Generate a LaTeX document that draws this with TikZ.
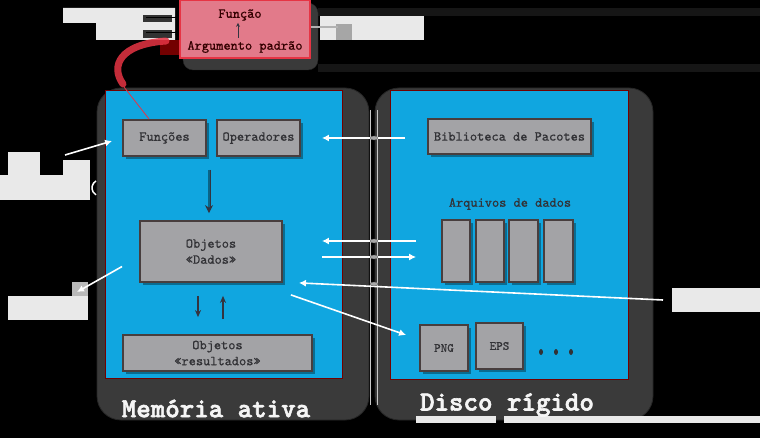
\documentclass[tikz,border=0pt]{standalone}
\usepackage{fontspec}
\newfontfamily\boxfont{lmmono10-regular.otf}[FakeBold=0.8]
\newfontfamily\titlefont{lmmonolt10-bold.otf}[FakeBold=2.2]
\usetikzlibrary{arrows.meta,calc,shadows}

\definecolor{panelblue}{RGB}{16,166,224}
\definecolor{paneldark}{RGB}{58,58,58}
\definecolor{boxfill}{RGB}{163,163,166}
\definecolor{boxline}{RGB}{72,62,62}
\definecolor{txtgray}{RGB}{50,50,54}
\definecolor{pinkfill}{RGB}{226,122,138}
\definecolor{redline}{RGB}{230,52,68}
\definecolor{labelgray}{RGB}{233,233,233}
\definecolor{bandgray}{RGB}{22,22,22}
\definecolor{arrowdark}{RGB}{52,52,64}

\tikzset{
  box/.style={draw=boxline, line width=1.8pt, fill=boxfill,
    font=\boxfont\fontsize{13.7}{16}\selectfont, text=txtgray, align=center,
    inner sep=0pt,
    drop shadow={shadow xshift=3pt, shadow yshift=-3pt, opacity=0.35, fill=black}},
  plain/.style={font=\boxfont\fontsize{13.7}{16}\selectfont, text=txtgray, inner sep=0pt},
  panel/.style={fill=paneldark, draw=black!85, line width=0.8pt, rounded corners=24pt},
  blue/.style={fill=panelblue, draw=black!55!red, line width=0.4pt},
  warrow/.style={draw=white, line width=1.6pt, -{Latex[length=7pt,width=7pt]}},
  darrow/.style={draw=arrowdark, line width=1.6pt, -{Stealth[length=7pt,width=6pt]}},
  notebox/.style={fill=labelgray},
  title/.style={font=\titlefont\fontsize{27.6}{30}\selectfont, inner sep=0pt, text=white!96!black},
  ring/.style={fill=gray!70, draw=black!60, line width=0.3pt},
}

\begin{document}
\begin{tikzpicture}[x=1pt,y=-1pt]
  % canvas
  \fill[black] (0,0) rectangle (760,438);
  \useasboundingbox (0,0) rectangle (760,438);
  \fill[bandgray] (318,8) rectangle (760,16);
  \fill[bandgray] (318,64) rectangle (760,72);

  % two binder panels
  \path[panel] (97,88) rectangle (369,420);
  \path[panel] (375,88) rectangle (653,420);
  \path[blue] (105,90) rectangle (342,378);
  \path[blue] (390,90) rectangle (628,379);
  \draw[gray!45, line width=0.6pt] (370.5,110) -- (370.5,405);
  \draw[gray!45, line width=0.6pt] (377.5,110) -- (377.5,405);

  % function card
  \path[fill=paneldark, draw=black!85, rounded corners=10pt] (183,3) rectangle (318,70);
  \node[draw=redline, line width=2pt, fill=pinkfill, minimum width=130pt,
        minimum height=58pt, inner sep=0pt] (funcao) at (245,29) {};
  \node[plain, text=black!80!red] (fnA) at (240,15) {Função};
  \node[plain, text=black!80!red] (fnB) at (245,47) {Argumento padrão};
  \draw[arrowdark, line width=0.9pt, -{Stealth[length=4pt,width=4pt]}]
    ($(fnB.north)+(-7,-3)$) -- ($(fnA.south)+(-2,2)$);

  % memory side
  \node[box, minimum width=83pt, minimum height=36pt] (fun) at (164.5,138) {Funções};
  \node[box, minimum width=83pt, minimum height=36pt] (op) at (258.5,138) {Operadores};
  \node[box, minimum width=142pt, minimum height=61pt] (dados) at (211,251.5)
    {Objetos\\«Dados»};
  \node[box, minimum width=189pt, minimum height=36pt] (res) at (217.5,353)
    {Objetos\\«resultados»};

  % disk side
  \node[box, minimum width=163pt, minimum height=35pt] (bib) at (509.5,136.5)
    {Biblioteca de Pacotes};
  \node[plain] (arq) at (510,204) {Arquivos de dados};
  \node[box, minimum width=28pt, minimum height=62pt] (f1) at (456,251) {};
  \node[box, minimum width=28pt, minimum height=62pt] (f2) at (490,251) {};
  \node[box, minimum width=29pt, minimum height=62pt] (f3) at (523.5,251) {};
  \node[box, minimum width=29pt, minimum height=62pt] (f4) at (558.5,251) {};
  \node[box, minimum width=48pt, minimum height=46pt,
        font=\boxfont\fontsize{12.5}{14}\selectfont] (png) at (444,348) {PNG};
  \node[box, minimum width=47pt, minimum height=46pt,
        font=\boxfont\fontsize{12.5}{14}\selectfont] (eps) at (499.5,346) {EPS};
  \foreach \dx in {541,556,571} \fill[txtgray] (\dx,352) ellipse (2pt and 3pt);

  % panel titles
  \node[title] (tmem) at (216,408.5) {Memória ativa};
  \fill[labelgray] (416,416) rectangle (496,423);
  \fill[labelgray] (504,416) rectangle (760,423);
  \node[title] (tdisk) at (507,405) {Disco rígido};

  % outside note blocks
  \fill[notebox] (63,8) -- (175,8) -- (175,40) -- (96,40) -- (96,23) -- (63,23) -- cycle;
  \fill[black!80] (143,15) rectangle (172,22);
  \fill[black!80] (143,30) rectangle (172,38);
  \fill[notebox] (320,16) rectangle (424,40);
  \fill[gray!70] (336,24) rectangle (352,40);
  \fill[notebox] (8,152) rectangle (40,176);
  \fill[notebox] (63,160) rectangle (90,176);
  \fill[notebox] (0,175) rectangle (90,200);
  \fill[notebox] (8,296) rectangle (88,320);
  \fill[gray!55] (72,282) rectangle (88,296);
  \fill[notebox] (672,288) rectangle (760,312);

  \coordinate (nA) at (146,18);
  \coordinate (nB) at (146,33);
  \coordinate (nOut) at (338,27);
  \coordinate (nL) at (65,155);
  \coordinate (nD) at (77,292);
  \coordinate (nR) at (663,300);

  % note pointers
  \draw[black, line width=1pt, -{Stealth[length=4pt]}] (nA) -- (nA -| funcao.west);
  \draw[black, line width=1pt, -{Stealth[length=4pt]}] (nB) -- (nB -| funcao.west);
  \draw[white, double=gray!60, double distance=1.2pt, line width=0.8pt] (funcao.east |- nOut) -- (nOut);
  \draw[warrow] (nL) -- ($(fun.west)+(-10,3)$);
  \draw[white, line width=1.5pt] (96,181) arc[start angle=120, end angle=240, radius=8pt];
  \draw[warrow] ($(dados.west)+(-17,15)$) -- (nD);

  % default argument link
  \fill[black!55!red] (160,40) rectangle (179,55);
  \draw[redline, line width=0.8pt] ($(fun.north west)+(27,0)$) -- (124,87);
  \draw[redline, line width=7pt, line cap=round, opacity=0.85]
    (123,84) .. controls (110,66) and (120,44) .. (166,41);

  % flows inside memory
  \draw[arrowdark, double=panelblue!60!black, double distance=1.2pt, line width=0.9pt,
        -{Stealth[length=8pt,width=8pt]}] (209,170) -- ($(dados.north)+(-2,-7)$);
  \draw[darrow] ($(dados.south)+(-13,13)$) -- ($(res.north)+(-19.5,-17)$);
  \draw[darrow] ($(res.north)+(5.5,-15)$) -- ($(dados.south)+(12,13)$);

  % flows between memory and disk
  \coordinate (cBib) at ($(bib.west)+(-22,1.5)$);
  \coordinate (cOp) at ($(op.east)+(21,0)$);
  \draw[warrow] (cBib) -- (cOp);
  \coordinate (cArqA) at ($(f1.west)+(-25,-10)$);
  \coordinate (cDadA) at ($(dados.east)+(39,-10.5)$);
  \draw[warrow] (cArqA) -- (cDadA);
  \coordinate (cDadB) at ($(dados.east)+(39,5.5)$);
  \coordinate (cArqB) at ($(f1.west)+(-25,6)$);
  \draw[warrow] (cDadB) -- (cArqB);
  \coordinate (cDadC) at ($(dados.south east)+(16,0)$);
  \draw[warrow] (nR) -- (cDadC);
  \coordinate (cDadD) at ($(dados.south east)+(8,12)$);
  \coordinate (cPng) at ($(png.west)+(-13,-13)$);
  \draw[warrow] (cDadD) -- (cPng);

  % rings where the flows cross the spine
  \foreach \ry in {138,241,257,284}
    \path[ring] (374,\ry) ellipse (4pt and 2pt);
\end{tikzpicture}
\end{document}
